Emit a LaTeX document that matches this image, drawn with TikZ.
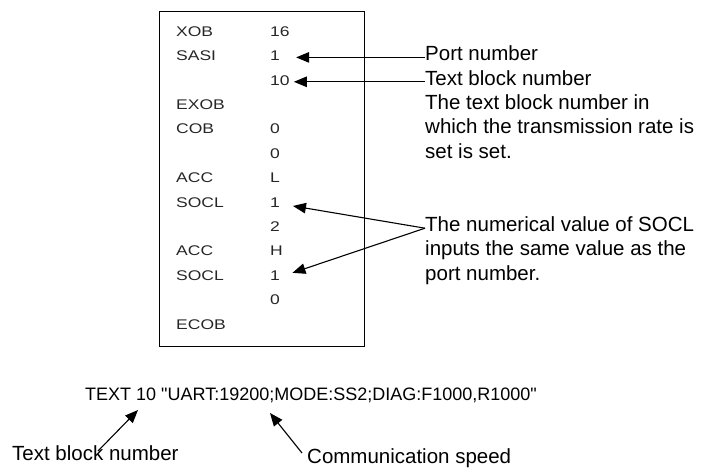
\documentclass[tikz,border=0pt]{standalone}
\usepackage{fontspec}
\setmainfont{Liberation Sans}
\newfontfamily\codefont[FakeStretch=1.25]{Liberation Sans}
\usetikzlibrary{arrows.meta}

\begin{document}
\begin{tikzpicture}
	[x=1pt, y=-1pt,
	every node/.style={inner sep=0pt, anchor=west, text height=1.5ex, text depth=.25ex},
	code/.style={font=\codefont\fontsize{14}{14}\selectfont, text=black!85},
	note/.style={font=\fontsize{20.5}{24}\selectfont},
	line/.style={font=\fontsize{18}{18}\selectfont},
	pointer/.style={-{Triangle[length=13pt,width=10.5pt]}, line width=1.1pt}]
	\useasboundingbox (0,0) rectangle (704,471);
	% listing box
	\draw [line width=0.9pt] (159,11) rectangle (364,346);
	\node (xob)  [code] at (176,33.0)  {XOB};   \node (xobv)  [code] at (270,33.0)  {16};
	\node (sasi) [code] at (176,57.4)  {SASI};  \node (sasiv) [code] at (270,57.4)  {1};
	                                           \node (blkv)  [code] at (270,81.8)  {10};
	\node (exob) [code] at (176,106.2) {EXOB};
	\node (cob)  [code] at (176,130.6) {COB};   \node (cobv)  [code] at (270,130.6) {0};
	                                           \node (cobw)  [code] at (270,155.0) {0};
	\node (acca) [code] at (176,179.4) {ACC};   \node (accav) [code] at (270,179.4) {L};
	\node (socla) [code] at (176,203.8) {SOCL}; \node (soclav) [code] at (270,203.8) {1};
	                                           \node (soclaw) [code] at (270,228.2) {2};
	\node (accb) [code] at (176,252.6) {ACC};   \node (accbv) [code] at (270,252.6) {H};
	\node (soclb) [code] at (176,277.0) {SOCL}; \node (soclbv) [code] at (270,277.0) {1};
	                                           \node (soclbw) [code] at (270,301.4) {0};
	\node (ecob) [code] at (176,325.8) {ECOB};
	% notes on the right
	\node (port) [note] at (425,57.4)  {Port number};
	\node (tbnr) [note] at (425,81.8)  {Text block number};
	\node (tbnc) [note] at (425,106.2) {The text block number in};
	\node (tbnd) [note] at (425,130.6) {which the transmission rate is};
	\node (tbne) [note] at (425,155.0) {set is set.};
	\node (socn) [note] at (425,228.2) {The numerical value of SOCL};
	\node (socm) [note] at (425,252.6) {inputs the same value as the};
	\node (soco) [note] at (425,277.0) {port number.};
	\draw [pointer, shorten >=16pt] (port.west) -- (sasiv.east);
	\draw [pointer, shorten >=4pt] (tbnr.west) -- (blkv.east);
	\draw [pointer, shorten >=13pt] (socn.west) -- (soclav.east);
	\draw [pointer, shorten >=13pt] (socn.west) -- (soclbv.east);
	% text line and its notes
	\node (textline) [line] at (85,397) {TEXT 10 \textquotedbl UART:19200;MODE:SS2;DIAG:F1000,R1000\textquotedbl};
	\node (tbnb) [note] at (12,457) {Text block number};
	\node (speed) [note] at (307,460) {Communication speed};
	\coordinate (tbnend) at (98,451);
	\coordinate (blkten) at (138,410);
	\coordinate (speedend) at (302,453);
	\coordinate (baud) at (270,413);
	\draw [pointer] (tbnend) -- (blkten);
	\draw [pointer] (speedend) -- (baud);
\end{tikzpicture}
\end{document}
